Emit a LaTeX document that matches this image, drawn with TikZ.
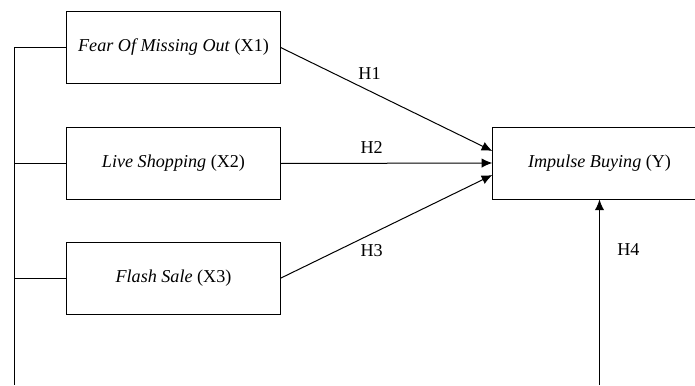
\documentclass[tikz,border=0pt]{standalone}
\usepackage{fontspec}
\setmainfont{Liberation Serif}
\usepackage{tikz}
\usetikzlibrary{arrows.meta}
\usetikzlibrary{positioning}
\tikzstyle{block} = [rectangle, draw, minimum width=160pt,
minimum height=54pt, inner sep=0pt]
\tikzstyle{line} = [draw, -{Latex[length=8pt, width=7pt]}]
\tikzstyle{hyp} = [inner sep=0pt]

\begin{document}
\begin{tikzpicture}[x=0.75pt, y=-0.75pt, node distance=87pt, line width=0.75pt,
font=\fontsize{13.6}{16}\selectfont]
\useasboundingbox (0,0) rectangle (695,385);
% Place nodes
\node [block] (x1) at (173.5,47.5) {\textit{Fear Of Missing Out} (X1)};
\node [block, below of=x1] (x2) {\textit{Live Shopping} (X2)};
\node [block, below of=x2, node distance=86pt] (x3) {\textit{Flash Sale} (X3)};
\node [block] (y) at (599.5,163) {\textit{Impulse Buying} (Y)};
\coordinate (rail) at (14,47.5);
\coordinate (railend) at (14,385);
\coordinate (foot) at (599.5,385);

% Draw edges
\path [line] (x1.east) -- node [hyp, pos=0.42, above=8pt] {H1} ([yshift=9pt]y.west);
\path [line] (x2.east) -- node [hyp, pos=0.43, above=7pt] {H2} (y.west);
\path [line] (x3.east) -- node [hyp, pos=0.43, below=8pt] {H3} ([yshift=-9pt]y.west);
\path [line] (foot) -- node [hyp, pos=0.73, right=13pt] {H4} (y.south);
\draw (x1.west) -- (rail) -- (railend);
\draw (x2.west) -- (x2.west -| rail);
\draw (x3.west) -- (x3.west -| rail);
\end{tikzpicture}
\end{document}
